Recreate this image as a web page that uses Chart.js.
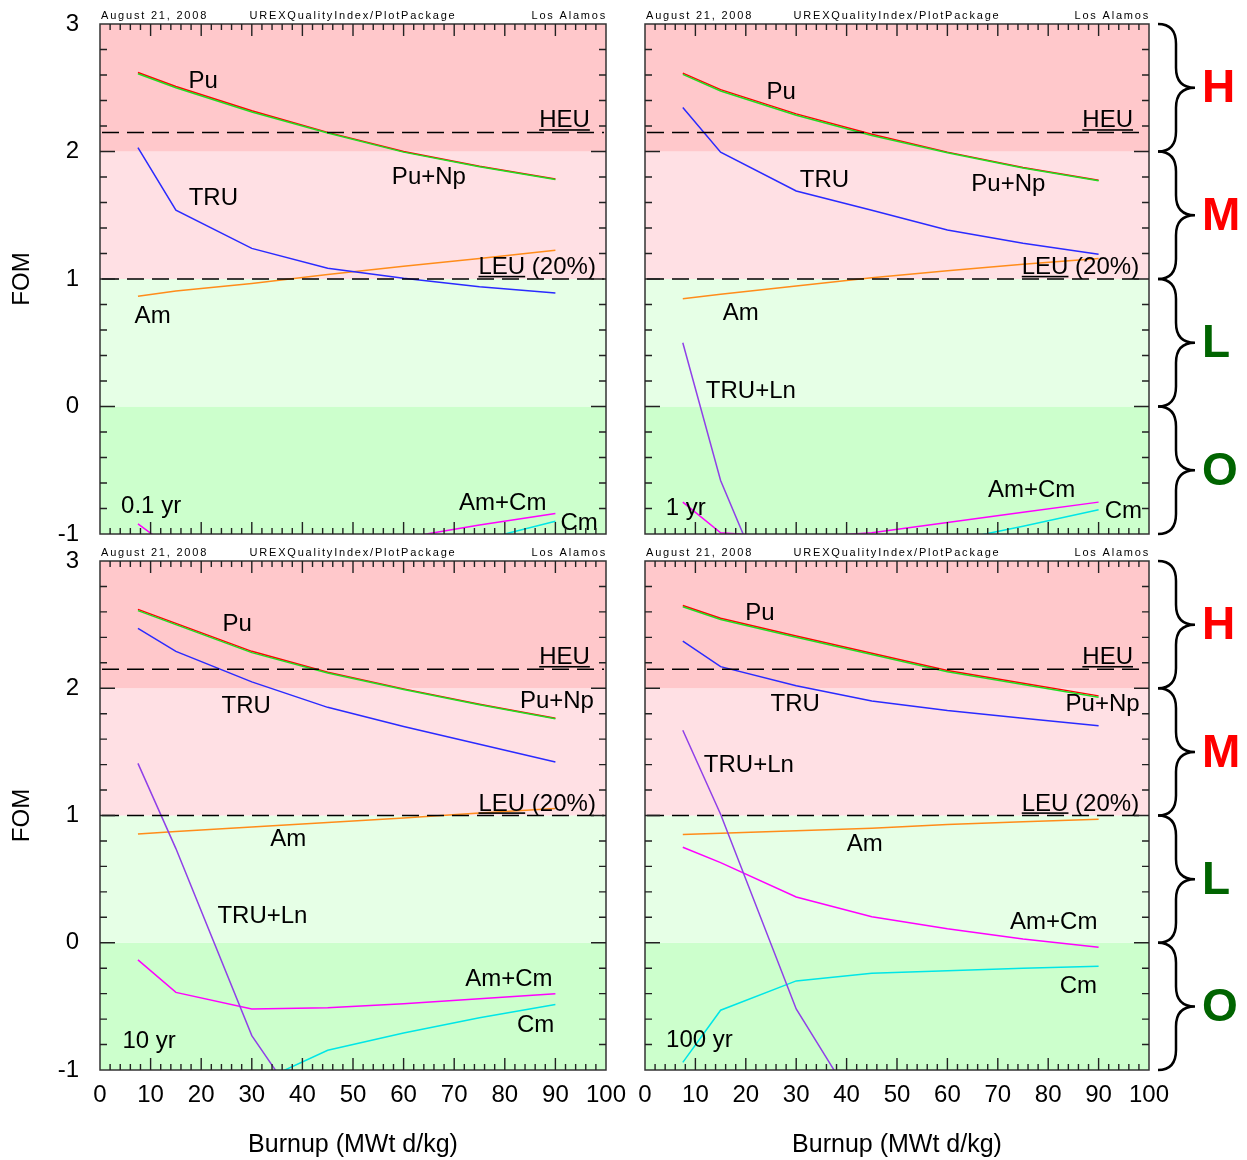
<!DOCTYPE html>
<html><head><meta charset="utf-8">
<script src="https://cdn.jsdelivr.net/npm/chart.js@4"></script>
<style>
html,body{margin:0;padding:0;background:#fff;}
body{width:1247px;height:1160px;overflow:hidden;position:relative;}
canvas{position:absolute;}
</style></head><body>
<canvas id="c0" width="650" height="590" style="left:0px;top:-16px"></canvas>
<canvas id="c1" width="623" height="590" style="left:624px;top:-16px"></canvas>
<canvas id="c2" width="650" height="639" style="left:0px;top:521px"></canvas>
<canvas id="c3" width="623" height="639" style="left:624px;top:521px"></canvas>
<script>
// ---------------- DATA ----------------
const burnup = [7.5, 15, 30, 45, 60, 75, 90];           // MWt d/kg
const xTickValues = [0, 10, 20, 30, 40, 50, 60, 70, 80, 90, 100];
const yTickValues = [-1, 0, 1, 2, 3];
const coolingTimes = ["0.1 yr", "1 yr", "10 yr", "100 yr"];
const levelEdges = [-1, 0, 1, 2, 3];
const levelNames = ["O", "L", "M", "H"];
const heuLevel = 2.15;
const leuLevel = 1.0;

// 0.1 yr
const pu_01    = [2.62, 2.51, 2.32, 2.15, 2.00, 1.885, 1.785];
const puNp_01  = [2.61, 2.50, 2.31, 2.145, 1.995, 1.88, 1.78];
const tru_01   = [2.03, 1.54, 1.24, 1.085, 1.005, 0.94, 0.89];
const am_01    = [0.865, 0.905, 0.965, 1.035, 1.10, 1.16, 1.225];
const amCm_01  = [-0.92, -1.14, -1.30, -1.20, -1.03, -0.93, -0.84];
const cm_01    = [-2.6, -2.2, -1.75, -1.45, -1.25, -1.05, -0.90];
// 1 yr
const pu_1     = [2.615, 2.485, 2.295, 2.135, 1.995, 1.875, 1.775];
const puNp_1   = [2.605, 2.475, 2.285, 2.125, 1.99, 1.87, 1.77];
const tru_1    = [2.345, 1.995, 1.69, 1.54, 1.385, 1.28, 1.195];
const truLn_1  = [0.50, -0.58, -1.99, null, null, null, null];
const am_1     = [0.845, 0.88, 0.945, 1.01, 1.065, 1.115, 1.16];
const amCm_1   = [-0.75, -0.99, -1.03, -0.99, -0.91, -0.83, -0.75];
const cm_1     = [-2.4, -2.0, -1.55, -1.25, -1.06, -0.94, -0.81];
// 10 yr
const pu_10    = [2.62, 2.51, 2.29, 2.125, 1.995, 1.875, 1.765];
const puNp_10  = [2.61, 2.50, 2.28, 2.12, 1.99, 1.87, 1.76];
const tru_10   = [2.47, 2.29, 2.05, 1.85, 1.70, 1.56, 1.42];
const truLn_10 = [1.41, 0.74, -0.73, -1.60, null, null, null];
const am_10    = [0.855, 0.875, 0.91, 0.945, 0.98, 1.02, 1.055];
const amCm_10  = [-0.135, -0.39, -0.52, -0.51, -0.48, -0.44, -0.40];
const cm_10    = [-2.6, -1.9, -1.12, -0.845, -0.71, -0.59, -0.485];
// 100 yr
const pu_100   = [2.65, 2.55, 2.41, 2.275, 2.14, 2.04, 1.94];
const puNp_100 = [2.64, 2.54, 2.40, 2.265, 2.13, 2.03, 1.93];
const tru_100  = [2.37, 2.17, 2.02, 1.90, 1.825, 1.765, 1.705];
const truLn_100= [1.67, 1.01, -0.52, -1.48, null, null, null];
const am_100   = [0.85, 0.86, 0.88, 0.90, 0.93, 0.95, 0.97];
const amCm_100 = [0.75, 0.63, 0.36, 0.205, 0.11, 0.03, -0.035];
const cm_100   = [-0.94, -0.53, -0.30, -0.24, -0.22, -0.20, -0.185];

// ---------------- STYLE ----------------
const FONT = '"Liberation Sans", Arial, Helvetica, sans-serif';
const seriesColor = {"Pu":"#ff0000","Pu+Np":"#22dd22","TRU":"#2a2aff","TRU+Ln":"#9040e8",
                     "Am":"#ff8c1a","Am+Cm":"#ff00ff","Cm":"#00e6e6"};
const seriesOrder = {"Pu+Np":0,"Pu":1,"TRU":2,"TRU+Ln":3,"Am":4,"Am+Cm":5,"Cm":6};
const bandColors = ["#ccffcc", "#e6ffe6", "#ffe0e4", "#ffc8cb"];
const levelColors = ["#006400", "#006400", "#ff0000", "#ff0000"];

// label anchor positions (data units) per panel
const labels01 = [["Pu",20.4,2.55],["TRU",22.4,1.63],["Pu+Np",65.0,1.80],["Am",10.4,0.71],
                  ["0.1 yr",10.1,-0.78],["Am+Cm",79.6,-0.76],["Cm",94.7,-0.92]];
const labels1  = [["Pu",27.0,2.46],["TRU",35.6,1.77],["Pu+Np",72.1,1.74],["Am",19.0,0.73],
                  ["TRU+Ln",21.0,0.12],["1 yr",8.1,-0.80],["Am+Cm",76.7,-0.66],["Cm",94.9,-0.82]];
const labels10 = [["Pu",27.1,2.50],["TRU",28.9,1.86],["Pu+Np",90.3,1.90],["Am",37.2,0.81],
                  ["TRU+Ln",32.1,0.205],["Am+Cm",80.8,-0.29],["Cm",86.1,-0.65],["10 yr",9.7,-0.775]];
const labels100= [["Pu",22.8,2.59],["TRU",29.8,1.87],["Pu+Np",90.8,1.87],["TRU+Ln",20.6,1.39],
                  ["Am",43.6,0.77],["Am+Cm",81.1,0.16],["Cm",86.0,-0.34],["100 yr",10.8,-0.77]];

const panels = [
  {id:"c0", showX:false, showY:true,  braces:false, pad:{left:0,right:44,top:40,bottom:40}, labels:labels01,
   series:[["Pu",pu_01],["Pu+Np",puNp_01],["TRU",tru_01],["Am",am_01],["Am+Cm",amCm_01],["Cm",cm_01]]},
  {id:"c1", showX:false, showY:false, braces:true,  pad:{left:21,right:98,top:40,bottom:40}, labels:labels1,
   series:[["Pu",pu_1],["Pu+Np",puNp_1],["TRU",tru_1],["TRU+Ln",truLn_1],["Am",am_1],["Am+Cm",amCm_1],["Cm",cm_1]]},
  {id:"c2", showX:true,  showY:true,  braces:false, pad:{left:0,right:44,top:40,bottom:0}, labels:labels10,
   series:[["Pu",pu_10],["Pu+Np",puNp_10],["TRU",tru_10],["TRU+Ln",truLn_10],["Am",am_10],["Am+Cm",amCm_10],["Cm",cm_10]]},
  {id:"c3", showX:true,  showY:false, braces:true,  pad:{left:21,right:98,top:40,bottom:0}, labels:labels100,
   series:[["Pu",pu_100],["Pu+Np",puNp_100],["TRU",tru_100],["TRU+Ln",truLn_100],["Am",am_100],["Am+Cm",amCm_100],["Cm",cm_100]]}
];

const decor = {
  id: 'decor',
  beforeDatasetsDraw(chart, args, o) {
    const {ctx, chartArea: a, scales: {y}} = chart;
    ctx.save();
    for (let i = 0; i < levelEdges.length - 1; i++) {
      const yb = y.getPixelForValue(levelEdges[i]);
      const yt = y.getPixelForValue(levelEdges[i + 1]);
      ctx.fillStyle = bandColors[i];
      ctx.fillRect(a.left, yt, a.right - a.left, yb - yt);
    }
    ctx.restore();
  },
  afterDatasetsDraw(chart, args, o) {
    const {ctx, chartArea: a, scales: {x, y}} = chart;
    ctx.save();
    // dashed reference lines
    ctx.strokeStyle = '#000'; ctx.lineWidth = 1.5; ctx.setLineDash([17, 8]);
    [heuLevel, leuLevel].forEach(lv => {
      const py = y.getPixelForValue(lv);
      ctx.beginPath(); ctx.moveTo(a.left + 2, py); ctx.lineTo(a.right - 2, py); ctx.stroke();
    });
    ctx.setLineDash([]);
    // reference labels (underlined)
    ctx.font = '24px ' + FONT; ctx.fillStyle = '#000';
    ctx.textAlign = 'left'; ctx.textBaseline = 'alphabetic';
    [["HEU","HEU",heuLevel,91.8],["LEU (20%)","LEU",leuLevel,86.4]].forEach(([t,u,lv,cx]) => {
      const w = ctx.measureText(t).width;
      const left = x.getPixelForValue(cx) - w / 2;
      const py = y.getPixelForValue(lv);
      ctx.fillText(t, left, py - 5);
      ctx.fillRect(left, py - 3.2, ctx.measureText(u).width, 1.6);
    });
    // series labels
    ctx.textAlign = 'center'; ctx.textBaseline = 'middle';
    o.labels.forEach(([t, lx, ly]) => ctx.fillText(t, x.getPixelForValue(lx), y.getPixelForValue(ly)));
    // frame
    ctx.strokeStyle = '#333'; ctx.lineWidth = 1.5;
    ctx.strokeRect(a.left, a.top, a.right - a.left, a.bottom - a.top);
    // inside ticks
    ctx.strokeStyle = '#222'; ctx.lineWidth = 1.4;
    ctx.beginPath();
    for (let i = 1; i < 50; i++) {
      const v = i * 2, px = x.getPixelForValue(v), len = (i % 5 === 0) ? 12 : 6;
      ctx.moveTo(px, a.top); ctx.lineTo(px, a.top + len);
      ctx.moveTo(px, a.bottom); ctx.lineTo(px, a.bottom - len);
    }
    for (let j = 1; j < 20; j++) {
      const v = -1 + j * 0.2, py = y.getPixelForValue(v), len = (j % 5 === 0) ? 15 : 7;
      ctx.moveTo(a.left, py); ctx.lineTo(a.left + len, py);
      ctx.moveTo(a.right, py); ctx.lineTo(a.right - len, py);
    }
    ctx.stroke();
    // header
    ctx.font = '11px ' + FONT; ctx.fillStyle = '#000'; ctx.textBaseline = 'alphabetic';
    try { ctx.letterSpacing = '1.8px'; } catch (e) {}
    const hy = a.top - 5.5;
    ctx.textAlign = 'left'; ctx.fillText('August 21, 2008', a.left + 1, hy);
    ctx.textAlign = 'center'; ctx.fillText('UREXQualityIndex/PlotPackage', (a.left + a.right) / 2, hy);
    ctx.textAlign = 'right'; ctx.fillText('Los Alamos', a.right + 1, hy);
    try { ctx.letterSpacing = '0px'; } catch (e) {}
    // braces and level letters
    if (o.braces) {
      const x0 = a.right + 9, xm = a.right + 27, xt = a.right + 46, r = 20;
      ctx.strokeStyle = '#000'; ctx.lineWidth = 2.5;
      for (let i = 0; i < levelEdges.length - 1; i++) {
        const yb = y.getPixelForValue(levelEdges[i]);
        const yt = y.getPixelForValue(levelEdges[i + 1]);
        const ym = (yb + yt) / 2;
        ctx.beginPath();
        ctx.moveTo(x0, yt);
        ctx.quadraticCurveTo(xm, yt, xm, yt + r);
        ctx.lineTo(xm, ym - r);
        ctx.quadraticCurveTo(xm, ym, xt, ym);
        ctx.quadraticCurveTo(xm, ym, xm, ym + r);
        ctx.lineTo(xm, yb - r);
        ctx.quadraticCurveTo(xm, yb, x0, yb);
        ctx.stroke();
        ctx.font = 'bold 46px ' + FONT; ctx.fillStyle = levelColors[i];
        ctx.textAlign = 'left'; ctx.textBaseline = 'middle';
        ctx.fillText(levelNames[i], a.right + 53, ym + 2);
      }
    }
    ctx.restore();
  }
};

panels.forEach(p => {
  new Chart(document.getElementById(p.id), {
    type: 'line',
    data: {
      datasets: p.series.map(([name, vals]) => ({
        label: name,
        data: burnup.map((b, i) => ({x: b, y: vals[i]})).filter(d => d.y !== null),
        borderColor: seriesColor[name],
        borderWidth: 1.5,
        pointRadius: 0,
        tension: 0,
        fill: false,
        order: seriesOrder[name]
      }))
    },
    options: {
      responsive: false, animation: false, devicePixelRatio: 1,
      layout: {padding: p.pad},
      plugins: {legend: {display: false}, tooltip: {enabled: false}, decor: {labels: p.labels, braces: p.braces}},
      scales: {
        x: {
          type: 'linear', min: 0, max: 100, display: p.showX,
          grid: {display: false, drawTicks: false}, border: {display: false},
          afterBuildTicks: s => { s.ticks = xTickValues.map(v => ({value: v})); },
          ticks: {color: '#000', font: {family: FONT, size: 24}, padding: 11, maxRotation: 0, autoSkip: false},
          title: {display: true, text: 'Burnup (MWt d/kg)', color: '#000', font: {family: FONT, size: 25}, padding: {top: 0, bottom: 0}},
          afterFit: s => { if (p.showX) s.height = 90; }
        },
        y: {
          type: 'linear', min: -1, max: 3, display: p.showY,
          grid: {display: false, drawTicks: false}, border: {display: false},
          afterBuildTicks: s => { s.ticks = yTickValues.map(v => ({value: v})); },
          ticks: {color: '#000', font: {family: FONT, size: 24}, padding: 21, autoSkip: false},
          title: {display: true, text: 'FOM', color: '#000', font: {family: FONT, size: 24}, padding: {top: 8, bottom: 0}},
          afterFit: s => { if (p.showY) s.width = 100; }
        }
      }
    },
    plugins: [decor]
  });
});
</script>
</body></html>
